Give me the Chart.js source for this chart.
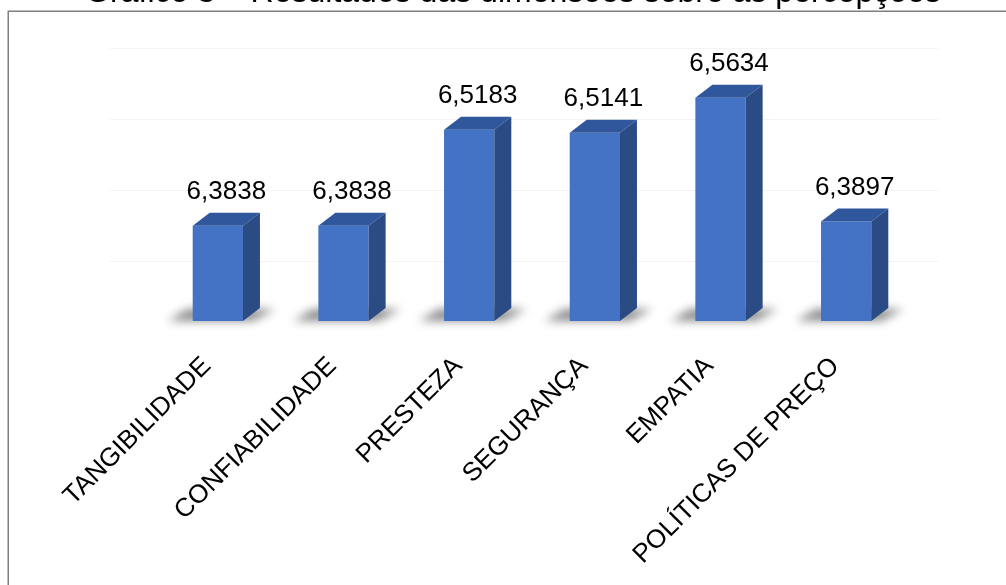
<!DOCTYPE html>
<html>
<head>
<meta charset="utf-8">
<script src="https://cdn.jsdelivr.net/npm/chart.js@4.4.1/dist/chart.umd.min.js"></script>
<style>
  html, body { margin: 0; padding: 0; background: #fff; }
  #wrap { position: relative; width: 1006px; height: 585px; }
</style>
</head>
<body>
<div id="wrap"><canvas id="barChartCanvas"></canvas></div>
<script>
var categories = ['TANGIBILIDADE', 'CONFIABILIDADE', 'PRESTEZA', 'SEGURANÇA', 'EMPATIA', 'POLÍTICAS DE PREÇO'];
var scores = [6.3838, 6.3838, 6.5183, 6.5141, 6.5634, 6.3897];
var axisMin = 6.25;
var axisMax = 6.6;
var gridStep = 0.1;
var chartTitle = 'Gráfico 3 – Resultados das dimensões sobre as percepções';

var FONT = 'Arial, "Liberation Sans", sans-serif';
var DEPTH_X = 17, DEPTH_Y = 13;

function formatScore(v) {
    return v.toFixed(4).replace('.', ',');
}

// gray frame around the whole chart
var framePlugin = {
    id: 'frame',
    beforeDraw: function(chart) {
        var ctx = chart.ctx;
        ctx.save();
        ctx.strokeStyle = '#7f7f7f';
        ctx.lineWidth = 1.5;
        ctx.strokeRect(8.25, 11.25, chart.width + 40, chart.height + 40);
        ctx.restore();
    }
};

// faint back-wall gridlines and the floor shadows under each bar
var wallPlugin = {
    id: 'wall',
    beforeDatasetsDraw: function(chart) {
        var ctx = chart.ctx;
        var area = chart.chartArea;
        var yScale = chart.scales.y;
        ctx.save();
        ctx.strokeStyle = '#f3f3f3';
        ctx.lineWidth = 1;
        yScale.ticks.forEach(function(t) {
            if (t.value <= axisMin) return;
            var py = Math.round(yScale.getPixelForValue(t.value) - 24) + 0.5;
            ctx.beginPath();
            ctx.moveTo(area.left - 45, py);
            ctx.lineTo(area.right + 29, py);
            ctx.stroke();
        });

        var meta = chart.getDatasetMeta(0);
        ctx.filter = 'blur(5px)';
        ctx.fillStyle = 'rgba(0,0,0,0.45)';
        meta.data.forEach(function(bar) {
            var left = bar.x - bar.width / 2;
            var right = bar.x + bar.width / 2;
            var base = bar.base;
            ctx.beginPath();
            ctx.moveTo(left - 25, base);
            ctx.lineTo(right + 10, base);
            ctx.lineTo(right + 32, base - 12);
            ctx.lineTo(left - 5, base - 12);
            ctx.closePath();
            ctx.fill();
        });
        ctx.restore();
    }
};

// top and side faces of the boxes, plus the value labels
var bar3dPlugin = {
    id: 'bar3d',
    afterDatasetsDraw: function(chart) {
        var ctx = chart.ctx;
        var meta = chart.getDatasetMeta(0);
        ctx.save();
        meta.data.forEach(function(bar, i) {
            var L = bar.x - bar.width / 2;
            var R = bar.x + bar.width / 2;
            var T = bar.y;
            var B = bar.base;

            ctx.fillStyle = '#30579b';
            ctx.beginPath();
            ctx.moveTo(L, T);
            ctx.lineTo(L + DEPTH_X, T - DEPTH_Y);
            ctx.lineTo(R + DEPTH_X, T - DEPTH_Y);
            ctx.lineTo(R, T);
            ctx.closePath();
            ctx.fill();

            ctx.fillStyle = '#2b4b84';
            ctx.beginPath();
            ctx.moveTo(R, T);
            ctx.lineTo(R + DEPTH_X, T - DEPTH_Y);
            ctx.lineTo(R + DEPTH_X, B - DEPTH_Y);
            ctx.lineTo(R, B);
            ctx.closePath();
            ctx.fill();

            ctx.fillStyle = '#000';
            ctx.font = '26px ' + FONT;
            ctx.textAlign = 'center';
            ctx.textBaseline = 'middle';
            ctx.fillText(formatScore(scores[i]), bar.x + DEPTH_X / 2, T - 34);
        });
        ctx.restore();
    }
};

var ctx = document.getElementById('barChartCanvas').getContext('2d');
var myBarChart = new Chart(ctx, {
    type: 'bar',
    data: {
        labels: categories,
        datasets: [{
            data: scores,
            base: axisMin,
            backgroundColor: '#4472c4',
            barPercentage: 0.4,
            categoryPercentage: 1.0
        }]
    },
    options: {
        responsive: true,
        maintainAspectRatio: false,
        animation: false,
        layout: { padding: { left: 80, right: 60, top: 0, bottom: 0 } },
        plugins: {
            legend: { display: false },
            tooltip: { enabled: false },
            title: {
                display: true,
                text: chartTitle,
                color: '#000',
                font: { family: FONT, size: 32, weight: 'normal', lineHeight: 1.2 },
                padding: { top: -26.3, bottom: 59.5 }
            }
        },
        scales: {
            x: {
                grid: { display: false, drawTicks: false },
                border: { display: false },
                ticks: {
                    color: '#000',
                    font: { family: FONT, size: 26 },
                    minRotation: 45,
                    maxRotation: 45,
                    autoSkip: false,
                    padding: 30,
                    labelOffset: -11
                },
                afterFit: function(s) { s.height = 264; }
            },
            y: {
                min: axisMin,
                max: axisMax,
                ticks: { display: false, stepSize: gridStep },
                grid: { display: false, drawTicks: false },
                border: { display: false },
                afterFit: function(s) { s.width = 75; }
            },
            // empty spacer on the right so the plot area ends where the frame expects
            yRight: {
                position: 'right',
                ticks: { display: false },
                grid: { display: false, drawTicks: false },
                border: { display: false },
                afterFit: function(s) { s.width = 37; }
            }
        }
    },
    plugins: [framePlugin, wallPlugin, bar3dPlugin]
});
</script>
</body>
</html>
